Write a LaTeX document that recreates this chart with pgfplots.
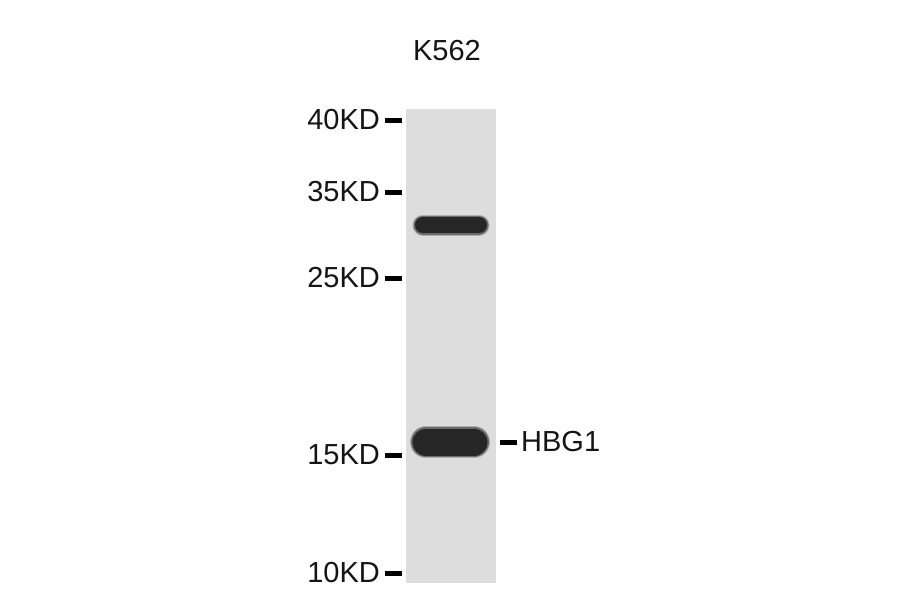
\documentclass[border=0pt]{standalone}
\usepackage{pgfplots}
\pgfplotsset{compat=1.18}
\usepackage{fontspec}
\setmainfont{Liberation Sans}
\definecolor{lanegray}{RGB}{221,221,221}
\definecolor{bandcore}{RGB}{38,38,38}
\definecolor{txt}{RGB}{20,20,20}
\tikzset{
    marker/.style={draw=black, line width=5pt, line cap=butt},
    mwlabel/.style={font=\fontsize{29}{32}\selectfont, text=txt, inner sep=0pt}
}
\begin{document}
\begin{tikzpicture}
\begin{axis}[
    scale only axis,
    width=900pt, height=594pt,
    xmin=0, xmax=900, ymin=0, ymax=594,
    y dir=reverse,
    axis line style={draw=none},
    ticks=none,
    axis background/.style={fill=white},
    clip=false
]
% lane
\addplot[fill=lanegray, draw=none] coordinates {
    (406,109) (496,109) (496,583) (406,583)
} -- cycle;
% upper band (~30 kD), soft edge in layers
\addplot[draw=bandcore, line width=21pt, line cap=round, opacity=0.25] coordinates {(423,225) (479,225)};
\addplot[draw=bandcore, line width=19pt, line cap=round, opacity=0.5] coordinates {(423,225) (479,225)};
\addplot[draw=bandcore, line width=16pt, line cap=round] coordinates {(423,225) (479,225)};
% lower band HBG1
\addplot[draw=bandcore, line width=32pt, line cap=round, opacity=0.25] coordinates {(426,442) (474,442)};
\addplot[draw=bandcore, line width=30pt, line cap=round, opacity=0.5] coordinates {(426,442) (474,442)};
\addplot[draw=bandcore, line width=27pt, line cap=round] coordinates {(426,442) (474,442)};
% marker ticks
\addplot[marker] coordinates {(385,120) (402,120)};
\addplot[marker] coordinates {(385,192) (402,192)};
\addplot[marker] coordinates {(385,278) (402,278)};
\addplot[marker] coordinates {(385,455) (402,455)};
\addplot[marker] coordinates {(385,573) (402,573)};
\addplot[marker] coordinates {(500,442) (517,442)};
% labels
\node[mwlabel, anchor=east] at (axis cs:380,120) {40KD};
\node[mwlabel, anchor=east] at (axis cs:380,192) {35KD};
\node[mwlabel, anchor=east] at (axis cs:380,278) {25KD};
\node[mwlabel, anchor=east] at (axis cs:380,455) {15KD};
\node[mwlabel, anchor=east] at (axis cs:380,573) {10KD};
\node[mwlabel, anchor=west] at (axis cs:521,442) {HBG1};
\node[mwlabel, anchor=center] at (axis cs:447,51) {K562};
\end{axis}
\end{tikzpicture}
\end{document}
